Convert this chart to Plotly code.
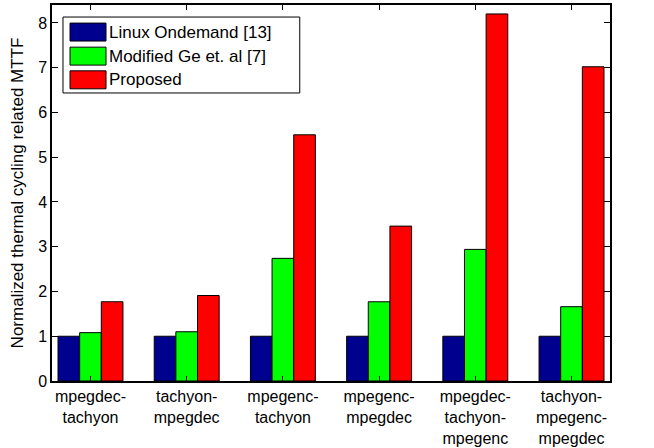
import plotly.graph_objects as go

categories = ["mpegdec-<br>tachyon", "tachyon-<br>mpegdec", "mpegenc-<br>tachyon",
              "mpegenc-<br>mpegdec", "mpegdec-<br>tachyon-<br>mpegenc", "tachyon-<br>mpegenc-<br>mpegdec"]
positions = [1, 2, 3, 4, 5, 6]
linux_ondemand = [1.0, 1.0, 1.0, 1.0, 1.0, 1.0]
modified_ge = [1.08, 1.10, 2.74, 1.77, 2.94, 1.66]
proposed = [1.77, 1.91, 5.50, 3.46, 8.20, 7.02]
y_ticks = [0, 1, 2, 3, 4, 5, 6, 7, 8]
series_names = ["Linux Ondemand [13]", "Modified Ge et. al [7]", "Proposed"]
series_colors = ["rgb(0,0,143)", "rgb(0,255,0)", "rgb(255,0,0)"]
series_values = [linux_ondemand, modified_ge, proposed]

FAM = "Liberation Sans, Arial, sans-serif"

fig = go.Figure()
for name, vals, col in zip(series_names, series_values, series_colors):
    fig.add_trace(go.Bar(x=positions, y=vals, name=name, showlegend=False,
                         marker=dict(color=col, line=dict(color="black", width=1))))

# manual legend (box, wide swatches, labels) in paper coordinates
shapes = [dict(type="rect", xref="paper", yref="paper", x0=0.0197, x1=0.444,
               y0=0.766, y1=0.968, line=dict(color="black", width=1), fillcolor="white")]
annotations = []
row_y = [0.928, 0.864, 0.801]
half = 0.0239
for i, (name, col) in enumerate(zip(series_names, series_colors)):
    shapes.append(dict(type="rect", xref="paper", yref="paper", x0=0.0323, x1=0.0968,
                       y0=row_y[i] - half, y1=row_y[i] + half,
                       line=dict(color="black", width=1), fillcolor=col))
    annotations.append(dict(xref="paper", yref="paper", x=0.0986, y=row_y[i],
                            xanchor="left", yanchor="middle", text=name, showarrow=False,
                            font=dict(family=FAM, size=17, color="black")))

fig.update_layout(
    width=654, height=448,
    margin=dict(l=52, r=44, t=5, b=67),
    paper_bgcolor="white", plot_bgcolor="white",
    barmode="group", bargap=0.325, bargroupgap=0,
    font=dict(family=FAM, size=16, color="black"),
    showlegend=False,
    shapes=shapes,
    annotations=annotations,
    xaxis=dict(range=[0.6, 6.4], tickmode="array", tickvals=positions, ticktext=categories,
               ticks="inside", ticklen=5, tickcolor="black", showline=True, linecolor="black",
               linewidth=1.5, mirror="ticks", showgrid=False, zeroline=False,
               automargin=False,
               tickfont=dict(family=FAM, size=16, color="black")),
    yaxis=dict(range=[0, 8.4], tickmode="array", tickvals=y_ticks,
               ticks="inside", ticklen=6, tickcolor="black", showline=True, linecolor="black",
               linewidth=1.5, mirror="ticks", showgrid=False, zeroline=False,
               automargin=False,
               title=dict(text="Normalized thermal cycling related MTTF",
                          font=dict(family=FAM, size=17, color="black"), standoff=10),
               tickfont=dict(family=FAM, size=16, color="black")),
)

fig.write_html("out.html", config={"displayModeBar": False},
               post_script="document.body.style.margin='0';")
